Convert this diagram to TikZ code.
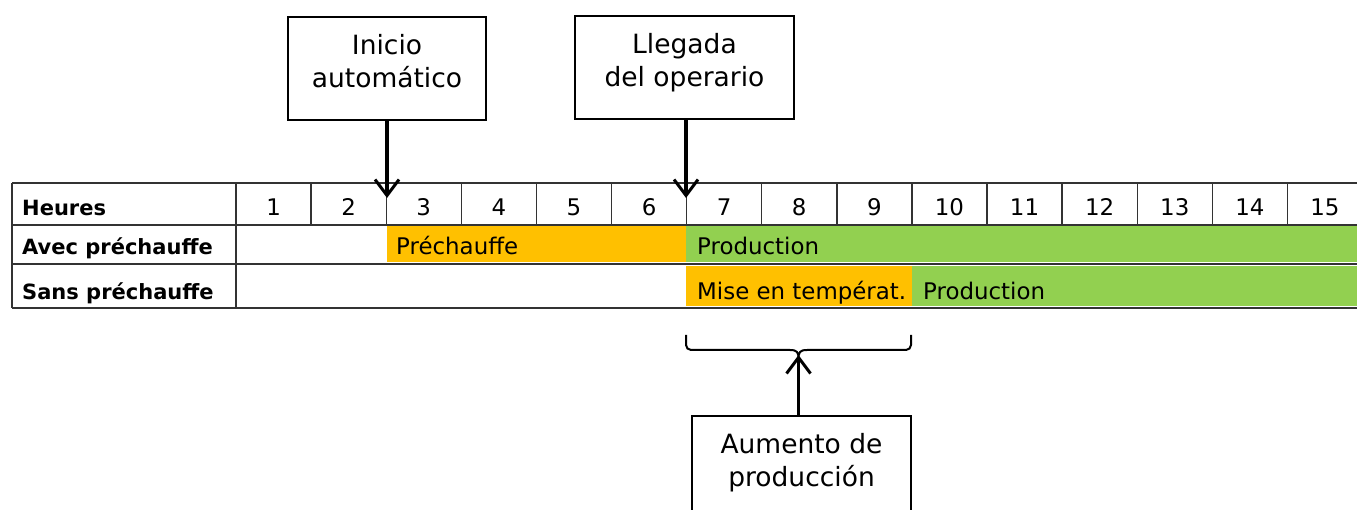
\documentclass[tikz,border=0pt]{standalone}
\usepackage{fontspec}
\setmainfont{DejaVu Sans}
\usepackage{tikz}
\usetikzlibrary{arrows.meta}
\definecolor{preheat}{HTML}{FFC000}
\definecolor{prod}{HTML}{92D050}

\begin{document}
\begin{tikzpicture}[x=1pt,y=-1pt,
	box/.style={draw,line width=1.3pt,align=center,inner sep=0pt,minimum height=103pt,text depth=14.5pt,font=\fontsize{26.5}{33}\selectfont},
	tbl/.style={draw=black!80,line width=1.4pt},
	arr/.style={line width=3.5pt,-{Straight Barb[length=16pt,width=24pt,line width=3pt]}},
	cell/.style={anchor=base west,inner sep=0pt,font=\fontsize{22.9}{25}\selectfont},
	head/.style={anchor=base west,inner sep=0pt,font=\fontsize{21}{25}\selectfont\bfseries}]
	\clip (0,0) rectangle (1357,510);
	% bars
	\fill[preheat] (387,226) rectangle (686,262.5);
	\fill[prod] (686,226) rectangle (1360,262.5);
	\fill[preheat] (686,266) rectangle (912,306);
	\fill[prod] (912,266) rectangle (1360,306);
	% grid
	\foreach \y in {183,225,264,308}{
		\draw[tbl] (12,\y) -- (1360,\y);}
	\draw[tbl] (12,183) -- (12,308);
	\draw[tbl] (236,183) -- (236,308);
	\foreach \k in {1,...,15}{
		\draw[tbl] ({236+75.1*\k},183) -- ({236+75.1*\k},225);
		\node[anchor=base,inner sep=0pt,font=\fontsize{22.9}{25}\selectfont] (h\k) at ({236+75.1*(\k-0.5)},216) {\k};}
	\node[head] (heures) at (22,216) {Heures};
	\node[head] (avec) at (22,255) {Avec préchauffe};
	\node[head] (sans) at (22,300) {Sans préchauffe};
	\node[cell] (prech) at (396,255) {Préchauffe};
	\node[cell] (prod1) at (697,255) {Production};
	\node[cell] (mise) at (697,300) {Mise en températ.};
	\node[cell] (prod2) at (923,300) {Production};
	% boxes
	\node[box,minimum width=198pt] (inicio) at (387,68.5) {Inicio\\automático};
	\node[box,minimum width=219pt] (llegada) at (684.5,67.5) {Llegada\\del operario};
	\node[box,minimum width=219pt] (aumento) at (801.5,467.5) {Aumento de\\producción};
	\coordinate (ini-end) at (387,198);
	\coordinate (lle-end) at (686,198);
	% brace
	\coordinate (br-l) at (686,335);
	\coordinate (br-r) at (911,335);
	\coordinate (br-tip) at (798.5,359);
	\draw[line width=2pt,rounded corners=5pt] (br-l) -- (686,350) -- (790,350);
	\draw[line width=2pt,rounded corners=5pt] (br-r) -- (911,350) -- (807,350);
	\draw[line width=2pt] (790,350) .. controls (797,350) and (798.5,352) .. (br-tip) .. controls (798.5,352) and (800,350) .. (807,350);
	\draw[arr] (aumento.north -| br-tip) -- ([yshift=4pt]br-tip);
	\draw[arr] (inicio) -- (ini-end);
	\draw[arr] (llegada.south -| lle-end) -- (lle-end);
\end{tikzpicture}
\end{document}
